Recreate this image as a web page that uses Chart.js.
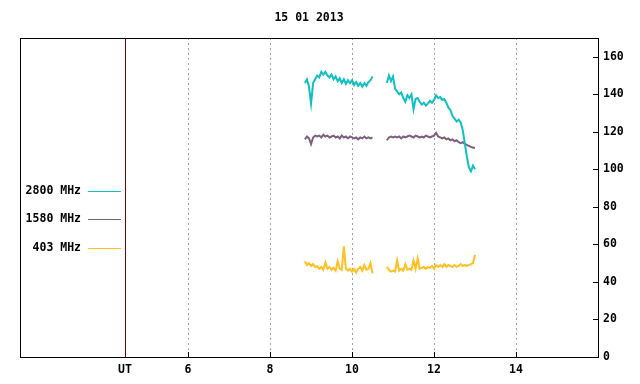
<!DOCTYPE html>
<html>
<head>
<meta charset="utf-8">
<script src="https://cdn.jsdelivr.net/npm/chart.js@4.4.1/dist/chart.umd.min.js"></script>
<style>
  body { margin: 0; background: #fff; }
  #wrap { width: 640px; height: 384px; }
</style>
</head>
<body>
<div id="wrap"><canvas id="radioChart" width="640" height="384"></canvas></div>
<script>
const chartTitle = '15 01 2013';
const seriesNames = ['2800 MHz', '1580 MHz', '403 MHz'];
const seriesColors = ['#10c0c0', '#7f5f7f', '#ffc020'];

// hours UT, two observing runs with a gap (null) between them
const hours = [
  8.85, 8.90, 8.95, 9.00, 9.05, 9.10, 9.15, 9.20, 9.25, 9.30, 9.35, 9.40,
  9.45, 9.50, 9.55, 9.60, 9.65, 9.70, 9.75, 9.80, 9.85, 9.90, 9.95, 10.00,
  10.05, 10.10, 10.15, 10.20, 10.25, 10.30, 10.35, 10.40, 10.45, 10.50,
  10.66,
  10.85, 10.90, 10.95, 11.00, 11.05, 11.10, 11.15, 11.20, 11.25, 11.30, 11.35,
  11.40, 11.45, 11.50, 11.55, 11.60, 11.65, 11.70, 11.75, 11.80, 11.85, 11.90,
  11.95, 12.00, 12.05, 12.10, 12.15, 12.20, 12.25, 12.30, 12.35, 12.40, 12.45,
  12.50, 12.55, 12.60, 12.65, 12.70, 12.75, 12.80, 12.85, 12.90, 12.95, 13.00
];

const flux2800 = [
  146, 148, 144, 135, 146, 148, 150, 149, 152, 150.5, 152, 150,
  149, 150.5, 148, 149.5, 147, 148.5, 146, 148, 145.5, 147.5, 146, 147.5,
  145, 146.5, 144.5, 146, 144, 146, 144.5, 146.5, 147.5, 149.5,
  null,
  146, 150, 147, 149.5, 143, 141.5, 140, 141, 138, 136, 139.5,
  138, 140, 132, 137.5, 138, 136, 134.5, 135.5, 134, 135, 136.5,
  135.5, 137, 139.5, 138, 138.5, 137, 137.5, 135.5, 133, 131.5, 128.5,
  127, 125.5, 126.5, 125, 121, 114, 107, 101, 99, 102, 100
];

const flux1580 = [
  116, 117.5, 116.5, 113.5, 117, 118, 117.5, 118, 117, 118.5, 117.5, 118,
  117, 117.5, 118, 117, 117.5, 116.5, 118, 117, 117.5, 116.5, 117.5, 117,
  116.5, 117, 116, 117, 116.5, 117.5, 116.5, 117, 116.5, 117,
  null,
  115.5, 117, 117.5, 117, 117.5, 117, 117.5, 116.5, 117.5, 117, 117.5,
  118, 117.5, 117, 118, 117.5, 117, 117.5, 117, 118, 117.5, 117,
  117.5, 118, 119.5, 117.5, 117, 116.5, 117, 116, 116.5, 115.5, 116,
  115, 115.5, 114.5, 114, 114.5, 113.5, 113, 112.5, 112, 111.5, 111.5
];

const flux403 = [
  51, 49, 50, 48.5, 49.5, 48, 48.5, 47, 48, 46.5, 50.5, 47,
  48, 46.5, 47.5, 46, 51, 47, 46.5, 59, 47, 46, 47, 45.5,
  47, 45, 47, 48, 46, 49, 46.5, 47, 50, 44.5,
  null,
  48, 46.5, 45.5, 46, 45.5, 51.5, 46, 47, 46, 49.5, 46.5,
  47, 46.5, 51.5, 47, 52.5, 47, 47.5, 48, 47, 48, 47.5,
  48.5, 47, 49, 48, 49, 48, 49.5, 48, 49, 48.5, 48,
  49, 48, 48.5, 49.5, 48.5, 49, 48.5, 49, 49.5, 50, 54.5
];

const xTicks = [6, 8, 10, 12, 14];
const utHour = 4.46;
const yTicks = [0, 20, 40, 60, 80, 100, 120, 140, 160];

const FONT_FAMILY = '"DejaVu Sans Mono"';
const FONT = 'bold 11.5px ' + FONT_FAMILY;

const toPoints = arr => arr.map((v, i) => ({ x: hours[i], y: v }));

// frame, UT marker, inner tick marks, legend and title in gnuplot style
const framePlugin = {
  id: 'frame',
  afterDraw(chart) {
    const { ctx, chartArea: a, scales } = chart;
    ctx.save();

    // UT marker line
    const ux = Math.round(scales.x.getPixelForValue(utHour)) + 0.5;
    ctx.strokeStyle = '#800000';
    ctx.lineWidth = 1;
    ctx.beginPath();
    ctx.moveTo(ux, a.top);
    ctx.lineTo(ux, a.bottom);
    ctx.stroke();

    // inner tick marks
    ctx.strokeStyle = '#000';
    ctx.beginPath();
    xTicks.forEach(v => {
      const px = Math.round(scales.x.getPixelForValue(v)) + 0.5;
      ctx.moveTo(px, a.bottom);
      ctx.lineTo(px, a.bottom - 5);
    });
    yTicks.forEach(v => {
      const py = Math.round(scales.y.getPixelForValue(v)) + 0.5;
      ctx.moveTo(a.right, py);
      ctx.lineTo(a.right - 5, py);
    });
    ctx.stroke();

    // frame
    ctx.strokeRect(Math.round(a.left) + 0.5, Math.round(a.top) + 0.5,
      Math.round(a.right - a.left), Math.round(a.bottom - a.top));

    // legend inside the plot, left side
    ctx.font = FONT;
    ctx.textAlign = 'right';
    ctx.textBaseline = 'middle';
    const legendY = [191, 219, 248];
    chart.data.datasets.forEach((ds, i) => {
      ctx.fillStyle = '#000';
      ctx.fillText(ds.label, 81, legendY[i]);
      ctx.strokeStyle = ds.borderColor;
      ctx.beginPath();
      ctx.moveTo(88, legendY[i] + 0.5);
      ctx.lineTo(121, legendY[i] + 0.5);
      ctx.stroke();
    });

    // title centred over the plot area
    ctx.fillStyle = '#000';
    ctx.textAlign = 'center';
    ctx.fillText(chartTitle, (a.left + a.right) / 2, 18);
    ctx.restore();
  }
};

const ctx = document.getElementById('radioChart').getContext('2d');

new Chart(ctx, {
  type: 'line',
  data: {
    datasets: [
      { label: seriesNames[0], data: toPoints(flux2800), borderColor: seriesColors[0] },
      { label: seriesNames[1], data: toPoints(flux1580), borderColor: seriesColors[1] },
      { label: seriesNames[2], data: toPoints(flux403), borderColor: seriesColors[2] }
    ]
  },
  options: {
    responsive: false,
    animation: false,
    spanGaps: false,
    layout: { padding: { left: 20, top: 38, right: 0, bottom: 0 } },
    elements: {
      point: { radius: 0 },
      line: { borderWidth: 2, tension: 0 }
    },
    plugins: {
      legend: { display: false },
      title: { display: false },
      tooltip: { enabled: false }
    },
    scales: {
      x: {
        type: 'linear',
        min: 1.9,
        max: 16,
        afterBuildTicks: scale => {
          scale.ticks = [utHour, ...xTicks].map(v => ({ value: v }));
        },
        afterFit: scale => { scale.height = 27; },
        ticks: {
          autoSkip: false,
          maxRotation: 0,
          padding: 6,
          color: '#000',
          font: { family: FONT_FAMILY, size: 11.5, weight: 'bold' },
          callback: v => (v === utHour ? 'UT' : v)
        },
        grid: {
          color: c => (c.tick && c.tick.value === utHour ? 'rgba(0,0,0,0)' : '#a0a0a0'),
          drawTicks: false
        },
        border: { display: false, dash: [2, 3] }
      },
      y: {
        position: 'right',
        min: 0,
        max: 170,
        afterBuildTicks: scale => {
          scale.ticks = yTicks.map(v => ({ value: v }));
        },
        afterFit: scale => { scale.width = 42; },
        ticks: {
          padding: 5,
          color: '#000',
          font: { family: FONT_FAMILY, size: 11.5, weight: 'bold' }
        },
        grid: { display: false, drawTicks: false },
        border: { display: false }
      }
    }
  },
  plugins: [framePlugin]
});
</script>
</body>
</html>
